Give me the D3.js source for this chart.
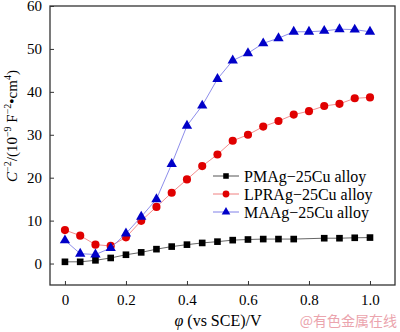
<!DOCTYPE html>
<html>
<head>
<meta charset="utf-8">
<script src="https://cdn.jsdelivr.net/npm/d3@7"></script>
<style>
  body { margin: 0; background: #fff; }
</style>
</head>
<body>
<div id="chart"></div>
<script>
const potential = [0, 0.05, 0.1, 0.15, 0.2, 0.25, 0.3, 0.35, 0.4, 0.45, 0.5,
  0.55, 0.6, 0.65, 0.7, 0.75, 0.8, 0.85, 0.9, 0.95, 1.0];

// PMAg has no point at 0.80 V
const pmagX = [0, 0.05, 0.1, 0.15, 0.2, 0.25, 0.3, 0.35, 0.4, 0.45, 0.5,
  0.55, 0.6, 0.65, 0.7, 0.75, 0.85, 0.9, 0.95, 1.0];
const pmagY = [0.4, 0.4, 0.75, 1.3, 2.05, 2.6, 3.35, 3.95, 4.4, 4.8, 5.1,
  5.45, 5.6, 5.7, 5.7, 5.7, 5.9, 5.9, 6.0, 6.05];
const lpraY = [7.8, 6.5, 4.4, 4.1, 6.1, 9.95, 13.2, 16.5, 19.6, 22.7, 25.4,
  28.6, 30.0, 31.9, 33.2, 34.7, 35.5, 36.7, 37.2, 38.5, 38.7];
const maaY = [5.4, 2.3, 2.1, 3.6, 7.0, 10.9, 15.0, 23.2, 32.1, 36.8, 43.0,
  47.3, 49.0, 51.3, 52.5, 54.0, 54.0, 54.2, 54.6, 54.5, 54.0];

const xTicks = [0, 0.2, 0.4, 0.6, 0.8, 1.0];
const yTicks = [0, 10, 20, 30, 40, 50, 60];
const seriesNames = ["PMAg\u221225Cu alloy", "LPRAg\u221225Cu alloy", "MAAg\u221225Cu alloy"];

const serif = "'Liberation Serif', 'Times New Roman', Times, 'DejaVu Serif', serif";

const width = 400;
const height = 332;
const margin = { top: 6, right: 5, bottom: 47, left: 50 };

const svg = d3.select("#chart")
  .append("svg")
  .attr("width", width)
  .attr("height", height)
  .style("font-family", serif);

const x = d3.scaleLinear()
  .domain([-0.049, 1.082])
  .range([margin.left, width - margin.right]);

const y = d3.scaleLinear()
  .domain([-5, 60])
  .range([height - margin.bottom, margin.top]);

const series = [
  { name: seriesNames[0], xs: pmagX, ys: pmagY, color: "#000", line: "#555", shape: d3.symbolSquare, size: 44 },
  { name: seriesNames[1], xs: potential, ys: lpraY, color: "#e00000", line: "#f08080", shape: d3.symbolCircle, size: 52 },
  { name: seriesNames[2], xs: potential, ys: maaY, color: "#0000c8", line: "#8080e8", shape: d3.symbolTriangle, size: 46 }
];

const plotW = width - margin.left - margin.right;
const plotH = height - margin.top - margin.bottom;

// axes with inward ticks
svg.append("g")
  .attr("transform", `translate(0,${height - margin.bottom})`)
  .call(d3.axisBottom(x).tickValues(xTicks).tickSizeInner(-4).tickSizeOuter(0)
    .tickPadding(9).tickFormat(d => d === 0 ? "0" : d3.format(".1f")(d)));

svg.append("g")
  .attr("transform", `translate(${margin.left},0)`)
  .call(d3.axisLeft(y).tickValues(yTicks).tickSizeInner(-4).tickSizeOuter(0).tickPadding(8));

svg.selectAll("g").attr("font-family", null).attr("font-size", null);
svg.selectAll(".tick text")
  .style("font-family", serif)
  .style("font-size", "15px")
  .attr("fill", "#000");
svg.selectAll(".domain").remove();
svg.selectAll(".tick line").attr("stroke", "#333").attr("stroke-width", 1);

svg.append("rect")
  .attr("x", margin.left)
  .attr("y", margin.top)
  .attr("width", plotW)
  .attr("height", plotH)
  .attr("fill", "none")
  .attr("stroke", "#333")
  .attr("stroke-width", 1.3);

// series lines and markers
series.forEach(s => {
  const pts = s.xs.map((v, i) => [v, s.ys[i]]);
  svg.append("path")
    .datum(pts)
    .attr("fill", "none")
    .attr("stroke", s.line)
    .attr("stroke-width", 0.9)
    .attr("d", d3.line().x(d => x(d[0])).y(d => y(d[1])));

  svg.append("g")
    .selectAll("path")
    .data(pts)
    .enter()
    .append("path")
    .attr("transform", d => `translate(${x(d[0])},${y(d[1])})`)
    .attr("d", d3.symbol().type(s.shape).size(s.size))
    .attr("fill", s.color);
});

// legend
const legend = svg.append("g").attr("transform", "translate(213,176)");
series.forEach((s, i) => {
  const row = legend.append("g").attr("transform", `translate(0,${i * 18})`);
  row.append("line")
    .attr("x1", 0).attr("x2", 26)
    .attr("stroke", s.line).attr("stroke-width", 1);
  row.append("path")
    .attr("transform", "translate(13,0)")
    .attr("d", d3.symbol().type(s.shape).size(s.size * 0.7))
    .attr("fill", s.color);
  row.append("text")
    .attr("x", 31)
    .attr("y", 5.5)
    .style("font-family", serif)
    .style("font-size", "16px")
    .attr("fill", "#000")
    .text(s.name);
});

// axis titles
const yTitle = svg.append("text")
  .attr("transform", "translate(17,126) rotate(-90)")
  .attr("text-anchor", "middle")
  .style("font-family", serif)
  .style("font-size", "15px")
  .attr("fill", "#000");
yTitle.append("tspan").style("font-style", "italic").text("C");
yTitle.append("tspan").style("font-size", "10px").attr("dy", -6).text("\u22122");
yTitle.append("tspan").attr("dy", 6).text("/(10");
yTitle.append("tspan").style("font-size", "10px").attr("dy", -6).text("\u22129");
yTitle.append("tspan").attr("dy", 6).text(" F");
yTitle.append("tspan").style("font-size", "10px").attr("dy", -6).text("\u22122");
yTitle.append("tspan").attr("dy", 6).text("\u2022cm");
yTitle.append("tspan").style("font-size", "10px").attr("dy", -6).text("4");
yTitle.append("tspan").attr("dy", 6).text(")");

const xTitle = svg.append("text")
  .attr("x", 218)
  .attr("y", 326)
  .attr("text-anchor", "middle")
  .style("font-family", serif)
  .style("font-size", "16px")
  .attr("fill", "#000");
xTitle.append("tspan").style("font-style", "italic").text("\u03c6");
xTitle.append("tspan").text(" (vs SCE)/V");

// watermark
svg.append("text")
  .attr("x", 397)
  .attr("y", 326)
  .attr("text-anchor", "end")
  .style("font-size", "14px")
  .style("font-family", "'Noto Sans CJK SC', sans-serif")
  .attr("fill", "#eba4ad")
  .text("@有色金属在线");
</script>
</body>
</html>
